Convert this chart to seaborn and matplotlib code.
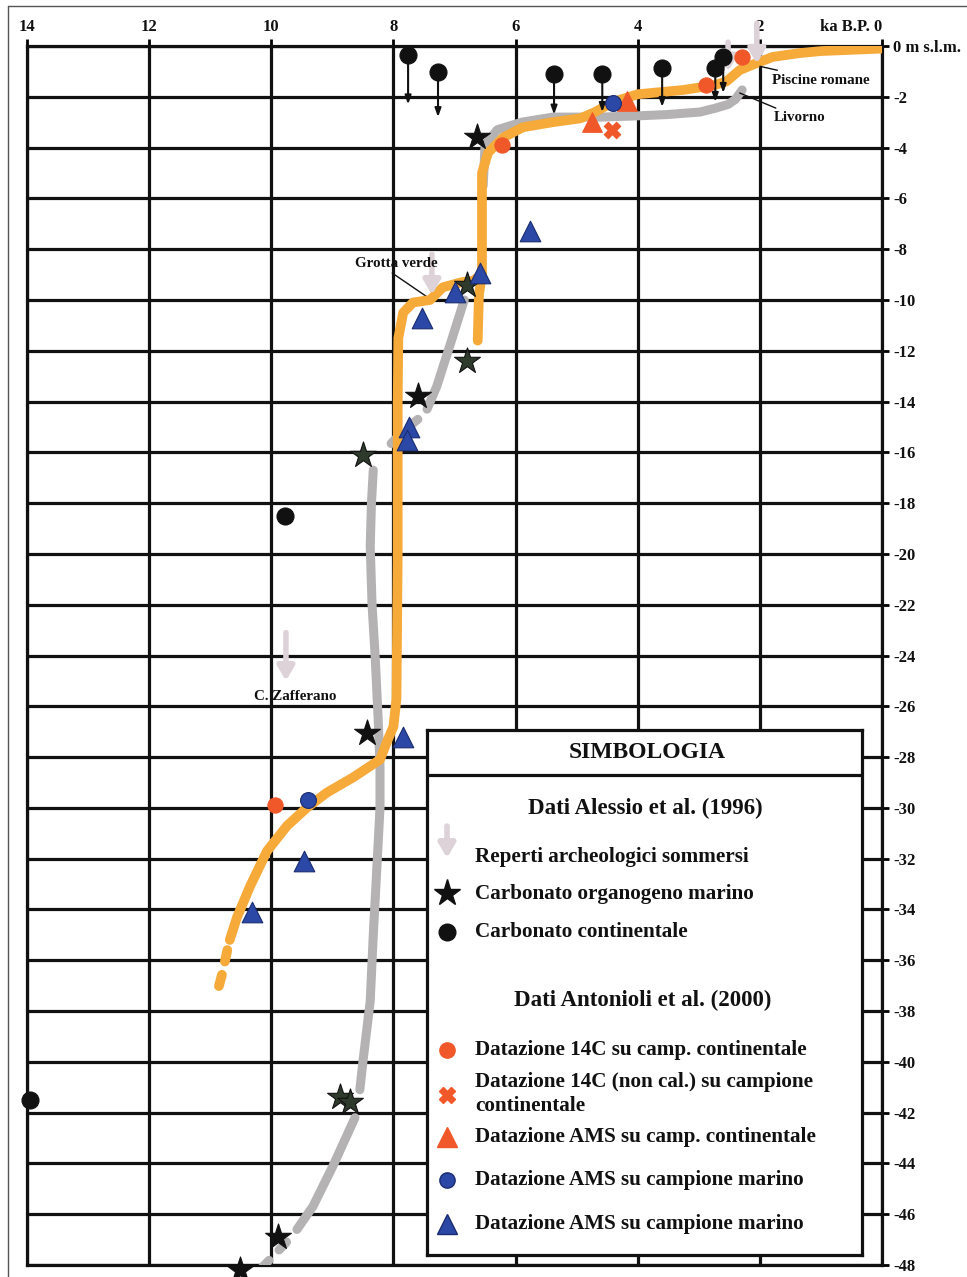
import numpy as np
import pandas as pd
import matplotlib
matplotlib.use("Agg")
import matplotlib.pyplot as plt
import seaborn as sns

sns.set_theme(style="white")
plt.rcParams['font.family'] = ['Liberation Serif', 'DejaVu Serif']
plt.rcParams['font.weight'] = 'bold'

# ---------------- data (ka B.P., m s.l.m.) ----------------
# Antonioli et al. (2000) sea-level curve (orange)
orange_x = [0.0, 0.5, 1.0, 1.35, 1.79, 2.05, 2.33, 2.55, 2.76, 3.25, 4.0, 4.4, 4.7, 4.94,
            5.39, 5.88, 6.2, 6.45, 6.55, 6.55, 6.55, 6.7, 6.88, 7.19, 7.4, 7.68, 7.84,
            7.92, 7.93, 7.93, 7.95, 8.0, 8.09, 8.22, 8.66, 9.09, 9.42, 9.74, 10.07,
            10.35, 10.56, 10.68]
orange_y = [-0.1, -0.15, -0.2, -0.28, -0.43, -0.67, -0.95, -1.4, -1.55, -1.73, -1.9, -2.2,
            -2.6, -2.85, -3.0, -3.2, -3.6, -4.2, -5.0, -7.0, -9.0, -9.25, -9.3, -9.5,
            -10.0, -10.1, -10.5, -11.5, -14.0, -20.0, -25.7, -26.8, -27.3, -28.1, -28.8,
            -29.4, -30.0, -30.7, -31.7, -33.1, -34.3, -35.2]
orange_hook_x = [6.55, 6.6, 6.62]
orange_hook_y = [-9.0, -9.8, -11.6]
orange_tail_x = [10.72, 10.8, 10.9]
orange_tail_y = [-35.6, -36.5, -37.4]

# Alessio et al. (1996) curve (grey), pieces
grey1_x = [2.29, 2.4, 2.52, 2.73, 2.98, 3.52, 4.0, 4.6, 4.94, 5.39, 5.9, 6.3, 6.5, 6.53]
grey1_y = [-1.73, -2.1, -2.3, -2.45, -2.6, -2.7, -2.75, -2.8, -2.8, -2.8, -3.0, -3.3, -3.9, -5.5]
grey2_x = [6.84, 7.05, 7.29, 7.45]
grey2_y = [-10.0, -11.6, -13.4, -14.3]
grey2d_x = [7.6, 7.85, 8.1]
grey2d_y = [-14.7, -15.2, -15.8]
grey3_x = [8.33, 8.36, 8.38, 8.35, 8.3, 8.25, 8.22, 8.22, 8.27, 8.33, 8.38, 8.5, 8.55]
grey3_y = [-16.7, -18.0, -19.7, -22.0, -24.0, -26.5, -28.4, -30.0, -32.3, -35.0, -37.6,
           -40.0, -41.1]
grey4_x = [8.63, 8.99, 9.32, 9.58]
grey4_y = [-42.2, -44.1, -45.7, -46.6]
grey4d_x = [9.75, 9.95, 10.15]
grey4d_y = [-47.1, -47.6, -48.1]

# Carbonato organogeno marino (stars)
star_x = [6.63, 7.6, 8.43, 9.89, 10.51]
star_y = [-3.6, -13.8, -27.05, -46.9, -48.2]
star_dark_x = [6.8, 6.8, 8.5, 8.88, 8.71]
star_dark_y = [-9.4, -12.4, -16.1, -41.4, -41.6]

# Carbonato continentale (black circles) and arrow ends
cc_x = [7.76, 7.27, 5.37, 4.58, 3.6, 2.73, 2.6, 9.78, 13.95]
cc_y = [-0.35, -1.04, -1.1, -1.1, -0.87, -0.87, -0.43, -18.5, -41.5]
cc_arrow_end = [-2.3, -2.8, -2.7, -2.6, -2.4, -2.2, -1.85, None, None]

# Antonioli et al. (2000) datings
c14_cont_x = [2.3, 2.88, 6.22, 9.94]
c14_cont_y = [-0.43, -1.55, -3.9, -29.9]
c14_nc_x = [4.42]
c14_nc_y = [-3.3]
ams_cont_x = [4.18, 4.75]
ams_cont_y = [-2.15, -3.0]
ams_mar_circ_x = [4.41, 9.4]
ams_mar_circ_y = [-2.24, -29.7]
ams_mar_tri_x = [5.77, 6.58, 7.0, 7.53, 7.75, 7.78, 7.84, 9.46, 10.32]
ams_mar_tri_y = [-7.3, -8.95, -9.7, -10.7, -15.0, -15.5, -27.2, -32.1, -34.1]

# Reperti archeologici sommersi (light arrows): x, top, bottom
arch_x = [2.05, 2.52, 7.37, 9.76]
arch_top = [0.9, 0.15, -8.2, -23.1]
arch_bot = [-0.7, -1.0, -9.8, -25.0]

x_ticks = [14, 12, 10, 8, 6, 4, 2, 0]
x_labels = ['14', '12', '10', '8', '6', '4', '2', 'ka B.P. 0']
y_ticks = list(range(0, -50, -2))
y_labels = ['0 m s.l.m.'] + [f'-{abs(v)}' for v in y_ticks[1:]]

# ---------------- figure ----------------
W, H = 967, 1277
fig = plt.figure(figsize=(W / 100, H / 100), dpi=100)
ax = fig.add_axes([27 / W, 12 / H, 855 / W, 1219 / H])
ax.set_xlim(14, 0)
ax.set_ylim(-48, 0)

ORANGE = '#F5AA3A'
GREY = '#B4B2B2'
ORMK = '#F0582A'
BLUE = '#2B48A6'

ax.set_xticks(x_ticks)
ax.set_xticklabels(x_labels, fontsize=12, fontweight='bold')
ax.set_yticks(y_ticks)
ax.set_yticklabels(y_labels, fontsize=12, fontweight='bold')
ax.xaxis.tick_top()
ax.yaxis.tick_right()
ax.tick_params(axis='both', direction='out', length=5, width=2, color='black', pad=3,
               labelcolor='#111111')
ax.get_xticklabels()[-1].set_horizontalalignment('right')
ax.grid(True, color='#111111', lw=2.3)
ax.set_axisbelow(True)
for s in ax.spines.values():
    s.set_color('#111111')
    s.set_linewidth(2.3)

def curve(xs, ys, color, lw, z, ls='-'):
    df = pd.DataFrame({'x': xs, 'y': ys})
    sns.lineplot(data=df, x='x', y='y', sort=False, estimator=None, ax=ax, color=color,
                 lw=lw, zorder=z, linestyle=ls, solid_capstyle='round',
                 dash_capstyle='round', legend=False)

# grey curve
curve(grey1_x, grey1_y, GREY, 6.5, 3)
curve(grey2_x, grey2_y, GREY, 6.5, 3)
curve(grey2d_x, grey2d_y, GREY, 6.5, 3, ls=(0, (1.2, 1.6)))
curve(grey3_x, grey3_y, GREY, 6.5, 3)
curve(grey4_x, grey4_y, GREY, 6.5, 3)
curve(grey4d_x, grey4d_y, GREY, 6.5, 3, ls=(0, (1.2, 1.6)))
# orange curve
curve(orange_x, orange_y, ORANGE, 7, 4)
curve(orange_hook_x, orange_hook_y, ORANGE, 7, 4)
curve(orange_tail_x, orange_tail_y, ORANGE, 7, 4, ls=(0, (1.2, 1.4)))

# archaeological arrows
for x, t, b in zip(arch_x, arch_top, arch_bot):
    ax.annotate('', xy=(x, b), xytext=(x, t), annotation_clip=False,
                arrowprops=dict(arrowstyle='-|>,head_width=0.35,head_length=0.6',
                                color='#DCD2D8', lw=4, mutation_scale=14,
                                shrinkA=0, shrinkB=0), zorder=5)

# black circles with arrows
for x, y, e in zip(cc_x, cc_y, cc_arrow_end):
    if e is not None:
        ax.annotate('', xy=(x, e), xytext=(x, y),
                    arrowprops=dict(arrowstyle='-|>,head_width=0.18,head_length=0.5',
                                    color='#111111', lw=1.5, mutation_scale=10,
                                    shrinkA=0, shrinkB=0), zorder=6)

def pts(xs, ys, marker, s, color, ec, z=7):
    sns.scatterplot(x=xs, y=ys, marker=marker, s=s, color=color, edgecolor=ec,
                    linewidth=0.8, ax=ax, zorder=z, clip_on=False, legend=False)

pts(cc_x, cc_y, 'o', 150, '#111111', '#111111')
pts(star_x, star_y, '*', 380, '#111111', '#111111')
pts(star_dark_x, star_dark_y, '*', 380, '#2E3A2C', '#111111')
pts(c14_cont_x, c14_cont_y, 'o', 120, ORMK, ORMK)
pts(c14_nc_x, c14_nc_y, 'X', 140, ORMK, ORMK)
pts(ams_cont_x, ams_cont_y, '^', 200, ORMK, ORMK)
pts(ams_mar_circ_x, ams_mar_circ_y, 'o', 130, BLUE, '#1A2C70')
pts(ams_mar_tri_x, ams_mar_tri_y, '^', 220, BLUE, '#1A2C70')
ax.set_xlim(14, 0)
ax.set_ylim(-48, 0)
ax.set_xlabel('')
ax.set_ylabel('')

# site labels
lab = dict(fontsize=10.8, fontweight='bold', color='#111111', zorder=9)
ax.annotate('Piscine romane', xy=(2.0, -0.8), xytext=(1.8, -1.34), ha='left', va='center',
            arrowprops=dict(arrowstyle='-', lw=1, color='#111111', shrinkA=0, shrinkB=0), **lab)
ax.annotate('Livorno', xy=(2.33, -1.85), xytext=(1.78, -2.83), ha='left', va='center',
            arrowprops=dict(arrowstyle='-', lw=1, color='#111111', shrinkA=0, shrinkB=0), **lab)
ax.text(7.28, -8.55, 'Grotta verde', ha='right', va='center', **lab)
ax.annotate('', xy=(7.4, -9.96), xytext=(8.02, -8.94),
            arrowprops=dict(arrowstyle='-', lw=1, color='#111111', shrinkA=0, shrinkB=0))
ax.text(9.6, -25.6, 'C. Zafferano', ha='center', va='center', **lab)

# ---------------- legend box ----------------
lx0, lx1, ly0, ly1 = 427, 862, 730, 1255
lg = fig.add_axes([lx0 / W, (H - ly1) / H, (lx1 - lx0) / W, (ly1 - ly0) / H])
lg.set_xlim(lx0, lx1)
lg.set_ylim(ly1, ly0)
lg.set_xticks([])
lg.set_yticks([])
lg.set_facecolor('white')
for s in lg.spines.values():
    s.set_color('#111111')
    s.set_linewidth(2.3)
lg.axhline(775, color='#111111', lw=2.3)

tk = dict(color='#111111', fontweight='bold', va='center')
lg.text(647, 753, 'SIMBOLOGIA', ha='center', fontsize=17, **tk)
lg.text(645, 808, 'Dati Alessio et al. (1996)', ha='center', fontsize=16.5, **tk)
lg.text(643, 1000, 'Dati Antonioli et al. (2000)', ha='center', fontsize=16.5, **tk)

entries = [
    (857, 'Reperti archeologici sommersi'),
    (894, 'Carbonato organogeno marino'),
    (932, 'Carbonato continentale'),
    (1050, 'Datazione 14C su camp. continentale'),
    (1082, 'Datazione 14C (non cal.) su campione'),
    (1106, 'continentale'),
    (1137, 'Datazione AMS su camp. continentale'),
    (1180, 'Datazione AMS su campione marino'),
    (1224, 'Datazione AMS su campione marino'),
]
for y, t in entries:
    lg.text(475, y, t, ha='left', fontsize=15.2, **tk)

lg.annotate('', xy=(447, 858), xytext=(447, 826),
            arrowprops=dict(arrowstyle='-|>,head_width=0.35,head_length=0.6',
                            color='#DCD2D8', lw=4, mutation_scale=14, shrinkA=0, shrinkB=0))
lg.plot(447, 893, marker='*', ms=20, color='#111111')
lg.plot(447, 932, marker='o', ms=12, color='#111111')
lg.plot(447, 1050, marker='o', ms=11, color=ORMK)
lg.plot(447, 1095, marker='X', ms=12, color=ORMK)
lg.plot(447, 1137, marker='^', ms=14, color=ORMK)
lg.plot(447, 1180, marker='o', ms=11, color=BLUE, mec='#1A2C70')
lg.plot(447, 1224, marker='^', ms=14, color=BLUE, mec='#1A2C70')

# scan frame
fig.add_artist(plt.Line2D([8 / W, 8 / W], [0, 1 - 6 / H], color='#555555', lw=1))
fig.add_artist(plt.Line2D([8 / W, 1], [1 - 6 / H, 1 - 6 / H], color='#555555', lw=1))

fig.savefig('out.png', dpi=100)
